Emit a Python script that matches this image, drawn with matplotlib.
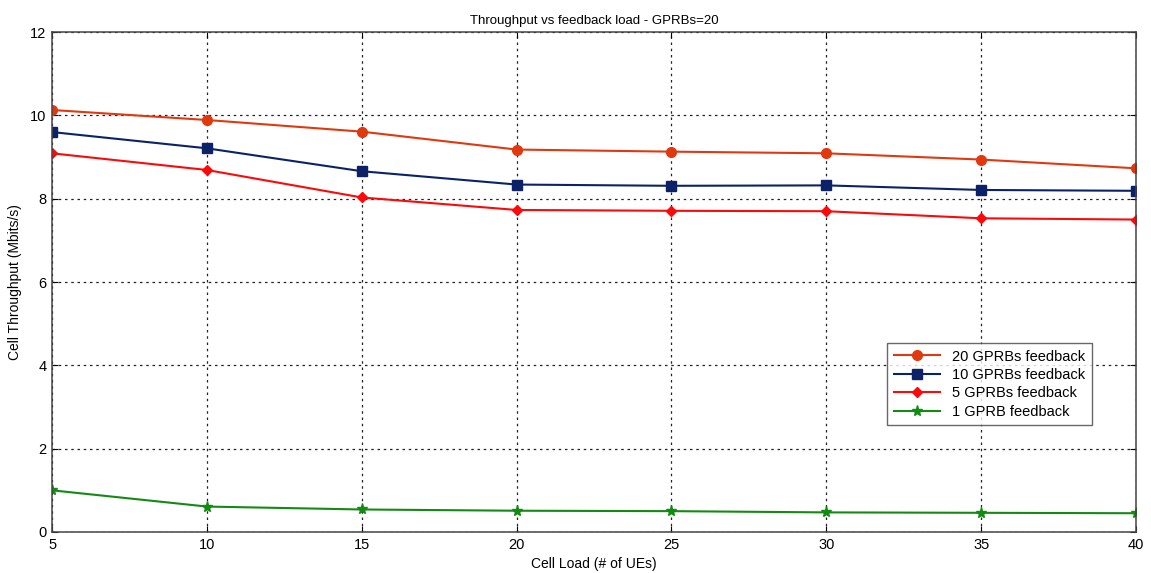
import matplotlib.pyplot as plt

plt.rcParams['font.family'] = ['Liberation Sans', 'DejaVu Sans']

cell_load = [5, 10, 15, 20, 25, 30, 35, 40]
tput_20 = [10.13, 9.89, 9.61, 9.18, 9.13, 9.09, 8.94, 8.73]
tput_10 = [9.60, 9.21, 8.66, 8.34, 8.31, 8.32, 8.21, 8.19]
tput_5 = [9.09, 8.69, 8.03, 7.73, 7.71, 7.70, 7.53, 7.50]
tput_1 = [1.00, 0.61, 0.54, 0.51, 0.50, 0.47, 0.46, 0.45]

labels = ['20 GPRBs feedback', '10 GPRBs feedback', '5 GPRBs feedback', '1 GPRB feedback']


def main():
    fig = plt.figure(figsize=(11.51, 5.73), dpi=100)
    ax = fig.add_axes([0.0452, 0.0716, 0.9418, 0.8724])

    ax.plot(cell_load, tput_20, color='#e0390f', marker='o', markersize=7, linewidth=1.5, label=labels[0])
    ax.plot(cell_load, tput_10, color='#0b2366', marker='s', markersize=7, linewidth=1.5, label=labels[1])
    ax.plot(cell_load, tput_5, color='#fa0a0a', marker='D', markersize=5.5, linewidth=1.5, label=labels[2])
    ax.plot(cell_load, tput_1, color='#138a13', marker='*', markersize=8, linewidth=1.5, label=labels[3])

    ax.set_xlim(5, 40)
    ax.set_ylim(0, 12)
    ax.set_xticks(cell_load)
    ax.set_yticks([0, 2, 4, 6, 8, 10, 12])
    ax.grid(True, color='#222222', linestyle=(0, (2, 3)), linewidth=0.9)
    ax.tick_params(direction='in', top=True, right=True, labelsize=10.5, length=4, pad=4)
    for s in ax.spines.values():
        s.set_color('#444444')
        s.set_linewidth(1.1)

    ax.set_title('Throughput vs feedback load - GPRBs=20', fontsize=9.5, pad=6)
    ax.set_xlabel('Cell Load (# of UEs)', fontsize=10, labelpad=4)
    ax.set_ylabel('Cell Throughput (Mbits/s)', fontsize=10, labelpad=6)

    leg = ax.legend(loc='upper left', bbox_to_anchor=(887 / 1151, 1 - 343 / 573),
                    bbox_transform=fig.transFigure, borderaxespad=0,
                    fancybox=False, edgecolor='#444444', fontsize=10.5,
                    handlelength=3.2, borderpad=0.45, labelspacing=0.3, numpoints=1)
    leg.get_frame().set_linewidth(1.0)

    plt.savefig('out.png', dpi=100)


if __name__ == '__main__':
    main()
